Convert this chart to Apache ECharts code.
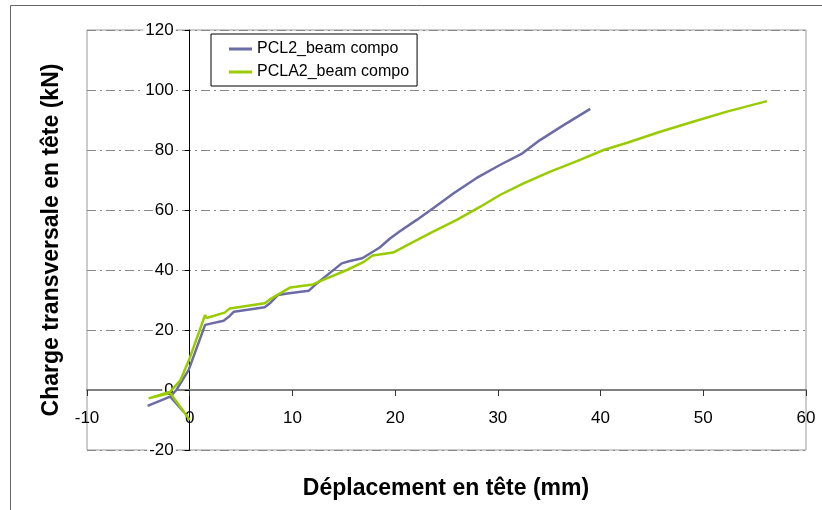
<!DOCTYPE html>
<html>
<head>
<meta charset="utf-8">
<script src="https://cdn.jsdelivr.net/npm/echarts@6/dist/echarts.min.js"></script>
<style>
html,body{margin:0;padding:0;background:#fff;}
#chart{width:822px;height:510px;}
</style>
</head>
<body>
<div id="chart"></div>
<script>
var seriesNames = ['PCL2_beam compo', 'PCLA2_beam compo'];
var pcl2X = [-0.6, -1.9, -4.1, -1.9, -1.3, -0.1, 1.5, 3.3, 3.8, 4.3, 7.3, 7.8, 8.6, 9.5, 11.6, 12.4, 14.8, 15.6, 16.8, 18.5, 19.5, 20.5, 22.1, 23.7, 25.7, 27.9, 30.2, 32.3, 34.1, 36.4, 39.0];
var pcl2Y = [-7.2, -2.2, -5.3, -2.2, 0, 6.7, 21.7, 23.1, 24.4, 26.1, 27.6, 28.9, 31.7, 32.2, 33.1, 35.6, 42.2, 43.0, 43.9, 47.5, 50.5, 53.0, 56.7, 60.6, 65.6, 70.6, 75.0, 78.7, 83.3, 88.3, 93.7];
var pcla2X = [0.0, -1.9, -4.0, -1.9, -0.9, 0.0, 1.5, 1.65, 3.4, 3.9, 7.3, 7.8, 8.8, 9.8, 12.0, 13.0, 15.3, 16.9, 17.8, 19.8, 21.5, 23.7, 26.0, 28.3, 30.2, 32.5, 35.1, 37.7, 40.3, 42.6, 45.8, 49.0, 52.3, 56.2];
var pcla2Y = [-10.0, -1.0, -2.8, -0.6, 3.3, 10.6, 25.0, 24.0, 25.8, 27.2, 28.9, 30.2, 32.2, 34.2, 35.2, 36.7, 40.0, 42.6, 44.8, 45.8, 48.9, 52.8, 56.7, 61.1, 65.0, 68.9, 72.8, 76.3, 80.0, 82.4, 86.1, 89.4, 92.8, 96.3];
var xTitle = 'Déplacement en tête (mm)';
var yTitle = 'Charge transversale en tête (kN)';

function pairs(xs, ys) {
  var out = [];
  for (var i = 0; i < xs.length; i++) out.push([xs[i], ys[i]]);
  return out;
}

var FONT = '"Liberation Sans", Arial, sans-serif';
var chart = echarts.init(document.getElementById('chart'));
chart.setOption({
  animation: false,
  backgroundColor: '#fff',
  textStyle: { fontFamily: FONT },
  grid: { left: 87, right: 16, top: 30, bottom: 60, show: true, borderColor: '#999', borderWidth: 1, backgroundColor: 'transparent' },
  legend: {
    data: seriesNames,
    orient: 'vertical',
    left: 211, top: 34,
    padding: [7, 8, 6, 18],
    itemGap: 7,
    itemWidth: 23, itemHeight: 3,
    icon: 'rect',
    borderColor: '#000', borderWidth: 1,
    backgroundColor: '#fff',
    textStyle: { fontSize: 16, color: '#000', fontFamily: FONT }
  },
  xAxis: {
    type: 'value', min: -10, max: 60, interval: 10,
    position: 'bottom', offset: -60,
    axisLine: { show: true, onZero: false, lineStyle: { color: '#808080', width: 2 } },
    axisTick: { show: true, length: 6, lineStyle: { color: '#333' } },
    axisLabel: { margin: 20, fontSize: 17, color: '#000', fontFamily: FONT },
    splitLine: { show: false }
  },
  yAxis: {
    type: 'value', min: -20, max: 120, interval: 20,
    position: 'left', offset: -102.7,
    axisLine: { show: true, onZero: false, lineStyle: { color: '#000', width: 1 } },
    axisTick: { show: true, length: 5, lineStyle: { color: '#000' } },
    axisLabel: { margin: 14, fontSize: 17, color: '#000', fontFamily: FONT, backgroundColor: '#fff', padding: [0, 2] },
    splitLine: { show: true, lineStyle: { color: '#888', width: 1, type: [9, 4, 2, 4] } }
  },
  series: [
    { name: seriesNames[0], type: 'line', data: pairs(pcl2X, pcl2Y), showSymbol: false, symbol: 'none', color: '#6B6BA6', lineStyle: { width: 2.5, color: '#6B6BA6' } },
    { name: seriesNames[1], type: 'line', data: pairs(pcla2X, pcla2Y), showSymbol: false, symbol: 'none', color: '#99CC00', lineStyle: { width: 2.5, color: '#99CC00' } }
  ],
  graphic: [
    { type: 'rect', shape: { x: 10.5, y: 5.5, width: 900, height: 600 }, style: { fill: 'none', stroke: '#666', lineWidth: 1 }, silent: true, z: -1 },
    { type: 'text', x: 446, y: 489, style: { text: xTitle, font: 'bold 23px ' + FONT, fill: '#000', align: 'center', verticalAlign: 'middle' } },
    { type: 'text', x: 52, y: 240, rotation: Math.PI / 2, style: { text: yTitle, font: 'bold 23px ' + FONT, fill: '#000', align: 'center', verticalAlign: 'middle' } }
  ]
});
</script>
</body>
</html>
